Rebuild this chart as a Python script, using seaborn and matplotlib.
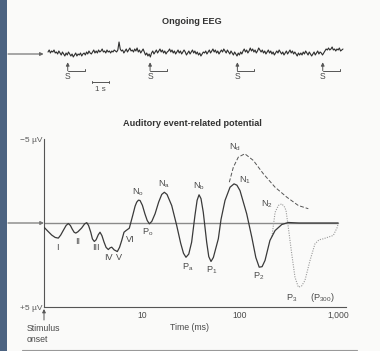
import numpy as np
import pandas as pd
import matplotlib
matplotlib.use("Agg")
import matplotlib.pyplot as plt
from matplotlib.lines import Line2D
from matplotlib.patches import Rectangle
import seaborn as sns

sns.set_theme(style="white")
plt.rcParams['font.family'] = ['Liberation Sans', 'DejaVu Sans']
plt.rcParams['mathtext.default'] = 'regular'

# ---------------- data ----------------
# Ongoing EEG (arbitrary units, up positive), 16.8 s of recording
eeg_vals = [1, 3, 0, 2, 1, 3, 0, 1, -1, 2,
            0, -2, 1, -1, -3, 0, -2, 1, -1, -3,
            -1, -4, -2, 0, -3, -1, -2, 0, -3, -1,
            0, -2, 1, -1, 2, 0, -1, 1, 3, 0,
            2, 0, 3, 1, 2, 4, 1, 2, 0, 3,
            1, 2, 0, 2, 1, 3, 2, 1, 3, 11,
            4, 2, 3, 0, 2, 4, 1, 3, 5, 2,
            3, 1, 4, 2, 5, 1, 3, 0, 2, 4,
            1, -2, 0, -3, -1, -4, 0, 2, -1, 1,
            3, 0, 2, 4, 1, 3, 0, 2, -1, 1,
            2, 4, 1, 3, 0, 2, -1, 1, 3, 0,
            2, -1, 1, 3, 1, -2, 0, 2, -1, 1,
            3, 0, 2, -1, 1, -2, 0, -3, -1, 1,
            0, 2, -1, 1, 3, 0, 2, 4, 1, 3,
            0, 2, -1, 1, 3, 1, 4, 2, 0, 3,
            1, -1, 2, 0, -2, 1, -1, -3, 0, -2,
            1, -1, 2, 4, 1, 3, 0, 2, 5, 2,
            4, 1, 3, 0, 2, 5, 3, 1, 3, 0,
            2, -1, 1, 3, 0, 2, -1, 1, -2, 0,
            2, 0, 3, 1, -1, 1, -2, 0, 2, -1,
            1, 3, 0, 2, -1, 1, -1, -3, 0, -2,
            0, -2, 1, -1, 2, 0, -2, 1, -1, -3,
            -1, 1, -2, 0, 2, -1, 1, 0, -2, 0,
            2, 4, 3, 5, 3, 4, 6, 3, 4, 2,
            4, 3, 5, 2, 3, 4]
eeg_duration = 16.76
stim_times = [1.12, 5.80, 10.76, 15.61]

# Auditory ERP: time (ms) and potential (uV, negative up)
erp_t = [1.00, 1.10, 1.20, 1.30, 1.40, 1.48, 1.57, 1.68, 1.77, 1.86, 1.94, 2.03,
         2.11, 2.22, 2.42, 2.60, 2.73, 2.85, 3.00, 3.12, 3.26, 3.40, 3.58, 3.73,
         3.90, 4.10, 4.30, 4.53, 4.72, 4.91, 5.20, 5.60, 5.90, 6.21, 6.55, 6.87,
         7.42, 8.04, 8.50, 8.83, 9.20, 9.55, 10.1, 10.7, 11.3, 11.9, 12.6, 13.6,
         14.8, 15.9, 16.9, 18.0, 20.1, 22.6, 24.8, 26.5, 28.1, 30.0, 32.1, 34.7,
         36.5, 38.2, 40.0, 42.2, 45.7, 48.0, 50.6, 53.5, 60.1, 64.0, 70.3, 79.1,
         86.9, 93.0, 100, 117, 132, 145, 157, 168, 180, 202, 228, 267, 311, 400, 1000]
erp_v = [0.25, 0.50, 0.72, 0.86, 0.90, 0.72, 0.45, 0.15, 0.03, 0.15, 0.36, 0.55,
         0.60, 0.52, 0.30, 0.05, -0.02, 0.15, 0.55, 0.95, 1.10, 1.00, 0.70, 0.55,
         0.75, 1.14, 1.45, 1.58, 1.48, 1.44, 1.60, 1.70, 1.45, 1.04, 0.55, 0.45,
         0.31, -0.45, -1.00, -1.24, -1.36, -1.34, -1.05, -0.55, -0.15, 0.05, -0.10, -0.55,
         -1.25, -1.70, -1.83, -1.70, -1.04, 0.15, 1.20, 1.80, 2.04, 1.85, 1.14, -0.45,
         -1.35, -1.68, -1.45, -0.64, 1.14, 2.00, 2.29, 2.05, 0.94, -0.21, -1.34, -2.13,
         -2.33, -2.25, -1.93, -0.55, 0.85, 2.05, 2.63, 2.60, 2.23, 1.04, 0.45, 0.09, -0.03, 0.0, 0.0]

nd_t = [77.8, 85.5, 96.1, 112, 137, 173, 228, 300, 394, 498]
nd_v = [-2.43, -3.32, -3.92, -4.12, -3.72, -2.93, -2.13, -1.54, -1.04, -0.85]

p3_t = [212, 228, 247, 267, 285, 295, 311, 337, 364, 394, 425, 460, 518, 582,
        640, 708, 896, 984, 1007]
p3_v = [0.80, -0.64, -1.05, -1.14, -0.95, -0.74, 0.25, 1.83, 3.23, 3.82, 3.75,
        3.42, 2.23, 1.24, 1.00, 0.94, 0.74, 0.25, -0.02]

x_ticks = [10, 100, 1000]
x_tick_labels = ['10', '100', '1,000']
y_ticks = [-5, 5]
y_tick_labels = ['\u22125 \u00b5V', '+5 \u00b5V']

peak_labels = [('I', 57, 247), ('II', 78, 242), ('III', 96, 248), ('IV', 108, 257),
               ('V', 119, 257), ('VI', 130, 240), ('N$_o$', 138, 192), ('P$_o$', 148, 232),
               ('N$_a$', 164, 184), ('P$_a$', 188, 267), ('N$_b$', 199, 186),
               ('P$_1$', 212, 270), ('N$_1$', 245, 180), ('P$_2$', 259, 276),
               ('N$_d$', 235, 147), ('N$_2$', 267, 204), ('P$_3$', 292, 298),
               ('(P$_{300}$)', 322, 298)]

# ---------------- figure ----------------
W, H = 380, 351
fig = plt.figure(figsize=(W / 100, H / 100), dpi=100)
fig.patch.set_facecolor('#fafaf9')
fig.add_artist(Rectangle((0, 0), 7 / W, 1, transform=fig.transFigure,
                         facecolor='#4c6381', edgecolor='none'))

def fx(x):
    return x / W

def fy(y):
    return 1 - y / H

txt_col = '#4a4a4a'
line_col = '#3a3a3a'

fig.text(fx(192), fy(21), 'Ongoing EEG', ha='center', va='center',
         fontsize=6.6, fontweight='bold', color='#333333')
fig.text(fx(192), fy(124), 'Auditory event-related potential', ha='center', va='center',
         fontsize=6.6, fontweight='bold', color='#333333')

# ---- EEG panel ----
px_per_s = 17.6
ax2 = fig.add_axes([0, fy(100), 1, 70 / H])
ax2.set_xlim(-48 / px_per_s, (W - 48) / px_per_s)
ax2.set_ylim(-47, 23)
ax2.axis('off')
ax2.patch.set_alpha(0)
eeg_df = pd.DataFrame({'t': np.linspace(0, eeg_duration, len(eeg_vals)), 'v': eeg_vals})
sns.lineplot(data=eeg_df, x='t', y='v', ax=ax2, color='#2e2e2e', lw=0.8)
ax2.annotate('', xy=(-0.25, -1), xytext=(-40 / px_per_s, -1),
             arrowprops=dict(arrowstyle='-|>', color='#666666', lw=0.8,
                             mutation_scale=5, shrinkA=0, shrinkB=0),
             annotation_clip=False)
for s in stim_times:
    ax2.annotate('', xy=(s, -9.3), xytext=(s, -17.7),
                 arrowprops=dict(arrowstyle='-|>', color='#555555', lw=0.7,
                                 mutation_scale=5, shrinkA=0, shrinkB=0))
    ax2.plot([s, s + 0.97, s + 0.97], [-17.7, -17.7, -16.4], color='#555555', lw=0.7)
    ax2.text(s, -23.7, 'S', ha='center', va='center', fontsize=6.2, color=txt_col)
bar_x0, bar_x1 = 2.48, 3.48
ax2.plot([bar_x0, bar_x1], [-29.3, -29.3], color='#555555', lw=0.7)
ax2.plot([bar_x0, bar_x0], [-28.3, -30.3], color='#555555', lw=0.7)
ax2.plot([bar_x1, bar_x1], [-28.3, -30.3], color='#555555', lw=0.7)
ax2.text((bar_x0 + bar_x1) / 2, -36.3, '1 s', ha='center', va='center',
         fontsize=5.8, color=txt_col)

# ---- ERP panel ----
ax = fig.add_axes([fx(44), fy(307), 302 / W, 168 / H])
ax.patch.set_alpha(0)
ax.set_xscale('log')
ax.set_xlim(1, 10 ** (302 / 98))
ax.set_ylim(5, -5)
for side in ['top', 'right']:
    ax.spines[side].set_visible(False)
for side in ['left', 'bottom']:
    ax.spines[side].set_color('#555555')
    ax.spines[side].set_linewidth(0.8)

ax.plot([1, 1000], [0, 0], color='#8a8a8a', lw=1.0, zorder=1)
ax.annotate('', xy=(1.0, 0), xytext=(10 ** (-36 / 98), 0),
            arrowprops=dict(arrowstyle='-|>', color='#777777', lw=0.9,
                            mutation_scale=5, shrinkA=0, shrinkB=0),
            annotation_clip=False)

sns.lineplot(x=erp_t, y=erp_v, ax=ax, color=line_col, lw=0.9, zorder=3)
sns.lineplot(x=nd_t, y=nd_v, ax=ax, color='#555555', lw=0.7, zorder=3,
             linestyle=(0, (4, 2)))
sns.lineplot(x=p3_t, y=p3_v, ax=ax, color='#9a9a9a', lw=0.8, zorder=2,
             linestyle=(0, (1, 1.2)))

ax.set_xticks(x_ticks)
ax.set_xticklabels(x_tick_labels)
ax.xaxis.set_minor_locator(matplotlib.ticker.NullLocator())
ax.set_yticks(y_ticks)
ax.set_yticklabels(y_tick_labels)
ax.tick_params(axis='x', direction='in', length=3, width=0.7, colors='#555555',
               labelsize=6.2, labelcolor=txt_col, pad=3)
ax.tick_params(axis='y', direction='in', length=3, width=0.7, colors='#555555',
               labelsize=6.0, labelcolor='#5a5a5a', pad=1)
ax.set_xlabel('')
ax.set_ylabel('')

for lab, x, y in peak_labels:
    fig.text(fx(x), fy(y), lab, ha='center', va='center', fontsize=6.6, color=txt_col)

fig.text(fx(190), fy(328), 'Time (ms)', ha='center', va='center', fontsize=6.3, color=txt_col)
fig.text(fx(27), fy(324), 'Stimulus\nonset', ha='left', va='top', fontsize=6.3,
         color=txt_col, linespacing=1.25)
ax.annotate('', xy=(fx(44), fy(309)), xycoords='figure fraction',
            xytext=(fx(44), fy(320)), textcoords='figure fraction',
            arrowprops=dict(arrowstyle='-|>', color='#555555', lw=0.7,
                            mutation_scale=5, shrinkA=0, shrinkB=0))

fig.add_artist(Line2D([fx(22), fx(357)], [fy(349.5), fy(349.5)], transform=fig.transFigure,
                      color='#999999', lw=0.8))

fig.savefig('out.png', dpi=100, facecolor=fig.get_facecolor())
